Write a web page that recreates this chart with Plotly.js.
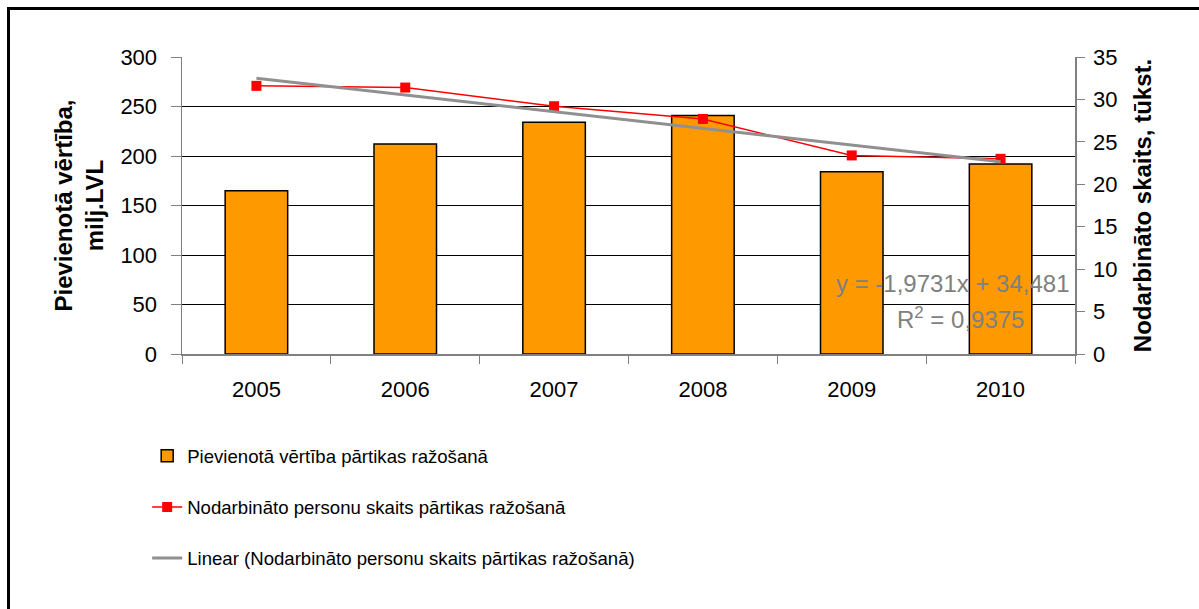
<!DOCTYPE html>
<html>
<head>
<meta charset="utf-8">
<script src="https://cdn.plot.ly/plotly-3.0.1.min.js"></script>
<style>
  html, body { margin: 0; padding: 0; background: #fff; }
  #wrap { position: relative; width: 1199px; height: 609px; overflow: hidden; }
  #chart { position: absolute; left: 0; top: 0; width: 1199px; height: 609px; }
  #frame { position: absolute; left: 7px; top: 7px; width: 1300px; height: 700px;
           border-left: 3px solid #000; border-top: 3px solid #000; pointer-events: none; }
</style>
</head>
<body>
<div id="wrap">
  <div id="chart"></div>
  <div id="frame"></div>
</div>
<script>
// ---- data ----
const years = ['2005', '2006', '2007', '2008', '2009', '2010'];
const valueAdded = [165, 212, 234, 241, 184, 192];          // milj. LVL
const employed = [31.6, 31.4, 29.2, 27.7, 23.4, 23.0];       // tūkst.
const trendYears = ['2005', '2010'];
const trendValues = [32.5, 22.65];                            // linear trend endpoints
const barName = 'Pievienotā vērtība pārtikas ražošanā';
const lineName = 'Nodarbināto personu skaits pārtikas ražošanā';
const trendName = 'Linear (Nodarbināto personu skaits pārtikas ražošanā)';
const eqText = 'y = -1,9731x + 34,481';
const r2Text = 'R<sup>2</sup> = 0,9375';
const leftTitle = 'Pievienotā vērtība,<br>milj.LVL';
const rightTitle = 'Nodarbināto skaits, tūkst.';

const FONT = 'Liberation Sans, Arial, sans-serif';

const traces = [
  {
    type: 'bar', x: years, y: valueAdded, name: barName,
    marker: { color: '#FF9900', line: { color: '#000', width: 1.5 } },
    width: 0.42, legendgroup: 'a', yaxis: 'y'
  },
  {
    type: 'scatter', mode: 'lines+markers', x: years, y: employed, name: lineName,
    line: { color: '#FF0000', width: 1.5 },
    marker: { symbol: 'square', size: 10, color: '#FF0000' },
    yaxis: 'y2', legendgroup: 'b'
  },
  {
    type: 'scatter', mode: 'lines', x: trendYears, y: trendValues, name: trendName,
    line: { color: '#909090', width: 3 }, yaxis: 'y2', legendgroup: 'c'
  }
];

const layout = {
  width: 1199, height: 609,
  margin: { l: 182, r: 124, t: 57, b: 255 },
  paper_bgcolor: '#fff', plot_bgcolor: '#fff',
  font: { family: FONT, size: 22, color: '#000' },
  showlegend: true,
  xaxis: {
    type: 'category', tickson: 'boundaries', ticks: 'outside', ticklen: 8,
    tickcolor: '#808080', showline: true, linecolor: '#808080', linewidth: 1.5,
    showgrid: false, zeroline: false, tickfont: { size: 22 }, ticklabelstandoff: 15
  },
  yaxis: {
    range: [0, 300], dtick: 50, ticks: 'outside', ticklen: 10, tickcolor: '#808080',
    showline: true, linecolor: '#808080', linewidth: 1.5,
    showgrid: true, gridcolor: '#000', gridwidth: 1, zeroline: false,
    tickfont: { size: 22 }, ticklabelstandoff: 9,
    title: { text: leftTitle, font: { size: 24, family: FONT, weight: 'bold' }, standoff: 10 }
  },
  yaxis2: {
    range: [0, 35], dtick: 5, overlaying: 'y', side: 'right',
    ticks: 'outside', ticklen: 8, tickcolor: '#808080',
    showline: true, linecolor: '#808080', linewidth: 1.5,
    showgrid: false, zeroline: false, tickfont: { size: 22 }, ticklabelstandoff: 4,
    title: { text: rightTitle, font: { size: 24, family: FONT, weight: 'bold' }, standoff: 18 }
  },
  legend: {
    orientation: 'v', x: -0.039, xanchor: 'left', y: -0.28, yanchor: 'top',
    font: { size: 18.6 }, tracegroupgap: 24, bgcolor: 'rgba(0,0,0,0)',
    itemwidth: 30
  },
  annotations: [
    { xref: 'paper', yref: 'paper', x: 0.863, y: 0.239, text: eqText, showarrow: false,
      font: { size: 24, color: '#808080' }, xanchor: 'center', yanchor: 'middle' },
    { xref: 'paper', yref: 'paper', x: 0.872, y: 0.121, text: r2Text, showarrow: false,
      font: { size: 24, color: '#808080' }, xanchor: 'center', yanchor: 'middle' }
  ]
};

Plotly.newPlot('chart', traces, layout, { displayModeBar: false, staticPlot: true });
</script>
</body>
</html>
